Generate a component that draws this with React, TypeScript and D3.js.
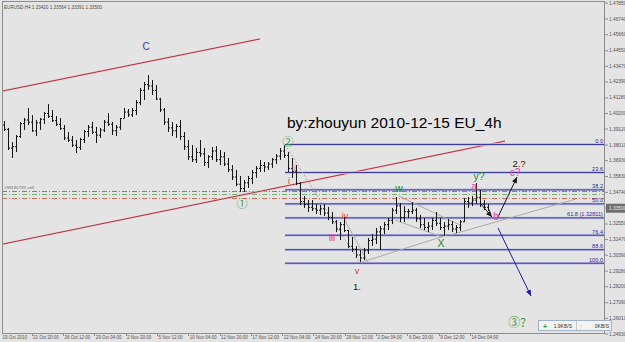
import React from 'react';
import * as d3 from 'd3';

// ---- price bars (8h aggregated) ----
const highs = [1.3968, 1.3920, 1.3822, 1.3871, 1.3961, 1.3989, 1.4058, 1.4009, 1.3975, 1.3989,
  1.4030, 1.4085, 1.4044, 1.4002, 1.3989, 1.3940, 1.3892, 1.3864, 1.3836, 1.3851,
  1.3906, 1.3940, 1.3961, 1.3927, 1.3920, 1.3975, 1.4023, 1.3961, 1.3940, 1.3989,
  1.4058, 1.4051, 1.4058, 1.4113, 1.4197, 1.4238, 1.4286, 1.4252, 1.4217, 1.4128,
  1.4058, 1.3989, 1.3961, 1.3947, 1.3975, 1.3892, 1.3836, 1.3801, 1.3781, 1.3836,
  1.3781, 1.3732, 1.3788, 1.3794, 1.3767, 1.3753, 1.3712, 1.3663, 1.3629, 1.3587,
  1.3559, 1.3587, 1.3629, 1.3656, 1.3698, 1.3684, 1.3684, 1.3712, 1.3739, 1.3781,
  1.3801, 1.3753, 1.3712, 1.3663, 1.3545, 1.3448, 1.3421, 1.3421, 1.3393, 1.3386,
  1.3393, 1.3373, 1.3338, 1.3282, 1.3268, 1.3303, 1.3213, 1.3165, 1.3102, 1.3075,
  1.3089, 1.3158, 1.3185, 1.3227, 1.3241, 1.3268, 1.3296, 1.3366, 1.3442, 1.3400,
  1.3379, 1.3359, 1.3407, 1.3366, 1.3317, 1.3296, 1.3268, 1.3296, 1.3338, 1.3296,
  1.3268, 1.3289, 1.3275, 1.3247, 1.3282, 1.3435, 1.3442, 1.3448, 1.3538, 1.3490,
  1.3421, 1.3393];
const lows = [1.3899, 1.3767, 1.3712, 1.3753, 1.3851, 1.3906, 1.3940, 1.3892, 1.3864, 1.3906,
  1.3947, 1.3989, 1.3961, 1.3933, 1.3906, 1.3836, 1.3822, 1.3788, 1.3746, 1.3767,
  1.3815, 1.3858, 1.3878, 1.3815, 1.3851, 1.3892, 1.3933, 1.3871, 1.3864, 1.3906,
  1.3989, 1.3996, 1.3996, 1.4009, 1.4078, 1.4113, 1.4183, 1.4148, 1.4113, 1.4030,
  1.3940, 1.3892, 1.3864, 1.3851, 1.3836, 1.3767, 1.3698, 1.3684, 1.3677, 1.3719,
  1.3656, 1.3643, 1.3698, 1.3684, 1.3663, 1.3656, 1.3615, 1.3559, 1.3517, 1.3476,
  1.3476, 1.3504, 1.3531, 1.3574, 1.3615, 1.3615, 1.3629, 1.3643, 1.3670, 1.3698,
  1.3712, 1.3615, 1.3574, 1.3524, 1.3386, 1.3366, 1.3338, 1.3345, 1.3324, 1.3317,
  1.3310, 1.3282, 1.3254, 1.3199, 1.3144, 1.3199, 1.3089, 1.3061, 1.3019, 1.2991,
  1.3005, 1.3047, 1.3102, 1.3116, 1.3075, 1.3185, 1.3213, 1.3254, 1.3324, 1.3268,
  1.3268, 1.3296, 1.3324, 1.3268, 1.3227, 1.3213, 1.3199, 1.3213, 1.3241, 1.3213,
  1.3172, 1.3213, 1.3199, 1.3192, 1.3206, 1.3268, 1.3366, 1.3379, 1.3393, 1.3373,
  1.3352, 1.3345];
const closes = [1.3910, 1.3780, 1.3790, 1.3860, 1.3950, 1.3975, 1.3960, 1.3900, 1.3955, 1.3980,
  1.4020, 1.4000, 1.3970, 1.3945, 1.3915, 1.3850, 1.3835, 1.3800, 1.3785, 1.3840,
  1.3895, 1.3925, 1.3890, 1.3870, 1.3905, 1.3960, 1.3945, 1.3900, 1.3925, 1.3985,
  1.4030, 1.4010, 1.4040, 1.4095, 1.4180, 1.4220, 1.4210, 1.4180, 1.4120, 1.4045,
  1.3960, 1.3920, 1.3900, 1.3930, 1.3860, 1.3790, 1.3720, 1.3700, 1.3750, 1.3740,
  1.3680, 1.3720, 1.3760, 1.3700, 1.3720, 1.3670, 1.3630, 1.3580, 1.3530, 1.3500,
  1.3540, 1.3570, 1.3610, 1.3640, 1.3660, 1.3650, 1.3670, 1.3700, 1.3725, 1.3760,
  1.3730, 1.3640, 1.3620, 1.3535, 1.3410, 1.3390, 1.3370, 1.3360, 1.3350, 1.3360,
  1.3330, 1.3300, 1.3270, 1.3220, 1.3250, 1.3210, 1.3100, 1.3080, 1.3040, 1.3020,
  1.3070, 1.3140, 1.3150, 1.3200, 1.3220, 1.3250, 1.3280, 1.3350, 1.3380, 1.3300,
  1.3340, 1.3340, 1.3350, 1.3290, 1.3250, 1.3230, 1.3240, 1.3280, 1.3260, 1.3230,
  1.3240, 1.3250, 1.3220, 1.3230, 1.3270, 1.3410, 1.3400, 1.3420, 1.3440, 1.3390,
  1.3370, 1.3350];
const firstOpen = 1.3940;
const lastPrice = 1.3350;

// ---- axes ----
const priceTicks = [1.4785, 1.4674, 1.4566, 1.4455, 1.4347, 1.4239, 1.4128, 1.4020, 1.3912, 1.3801,
  1.3693, 1.3583, 1.3474, 1.3365, 1.3255, 1.3147, 1.3039, 1.2928, 1.2820, 1.2709, 1.2601, 1.2493];
const dateLabels = ['19 Oct 2010', '21 Oct 20:00', '26 Oct 12:00', '29 Oct 04:00', '2 Nov 20:00',
  '5 Nov 12:00', '10 Nov 04:00', '12 Nov 20:00', '17 Nov 12:00', '22 Nov 04:00', '24 Nov 20:00',
  '29 Nov 12:00', '2 Dec 04:00', '6 Dec 20:00', '9 Dec 12:00', '14 Dec 04:00'];
const dateIdx = [-0.75, 6.9, 14.73, 22.56, 30.39, 38.22, 46.05, 53.88, 61.71, 69.54, 77.37,
  85.2, 93.03, 100.86, 108.69, 116.52];
const headerText = 'EURUSD,H4  1.33420 1.33564 1.33391 1.33500';

// ---- drawings ----
const upperChannel: [number, number][] = [[-0.25, 1.4176], [64, 1.4536]];
const lowerChannel: [number, number][] = [[-0.25, 1.3116], [125.25, 1.3829]];
const fibStart = 70.25;
const fibHigh = 1.3805;
const fibLow = 1.2983;
const fibEnd = 89;
const fibLevels = [0, 23.6, 38.2, 50, 61.8, 76.4, 88.6, 100];
const fibTexts = ['0.0', '23.6', '38.2', '50.0', '61.8 (1.32811)', '76.4', '88.6', '100.0'];
const orderPrices = [1.3480, 1.3459, 1.3431];
const orderLabel = '#98180735 sell';
const guideLines: [number, number][][] = [
  [[84.75, 1.3303], [91, 1.2991]],
  [[89.5, 1.2991], [110.75, 1.3178]],
  [[98.75, 1.3448], [114.5, 1.3241]],
  [[97.75, 1.3282], [109.5, 1.3165]],
  [[111.5, 1.3178], [143, 1.3428]],
];
const blackArrows: [number, number][][] = [
  [[119, 1.3400], [122, 1.3303]],
  [[123.5, 1.3303], [128.25, 1.3580]],
];
const blueArrows: [number, number][][] = [
  [[123.5, 1.3227], [131.75, 1.2756]],
];
const waveLabels = [
  { text: 'C', idx: 35.5, price: 1.4487, kind: 'navy' },
  { text: '①', idx: 59.5, price: 1.3400, kind: 'circle' },
  { text: '②', idx: 71, price: 1.3829, kind: 'circle' },
  { text: 'i', idx: 71.25, price: 1.3552, kind: 'red' },
  { text: 'ii', idx: 72.5, price: 1.3643, kind: 'pink' },
  { text: 'iii', idx: 82.0, price: 1.3158, kind: 'red' },
  { text: 'iv', idx: 85.25, price: 1.3310, kind: 'red' },
  { text: 'v', idx: 88.25, price: 1.2929, kind: 'red' },
  { text: '1.', idx: 88.25, price: 1.2825, kind: 'black' },
  { text: 'w', idx: 98.75, price: 1.3504, kind: 'green' },
  { text: 'X', idx: 109.25, price: 1.3124, kind: 'green' },
  { text: 'y?', idx: 118.75, price: 1.3587, kind: 'green' },
  { text: 'a', idx: 117.5, price: 1.3517, kind: 'magenta' },
  { text: 'b', idx: 123, price: 1.3310, kind: 'magenta' },
  { text: 'c?', idx: 127.75, price: 1.3608, kind: 'magenta' },
  { text: '2.?', idx: 128.75, price: 1.3677, kind: 'black' },
  { text: '③?', idx: 128.25, price: 1.2583, kind: 'circleBig' },
];
const title = 'by:zhouyun 2010-12-15 EU_4h';
const titleAnchor = { idx: 70.75, price: 1.3920 };
const statusTexts = ['1.9KB/S', '0KB/S'];

const labelStyle: Record<string, { fill: string; size: number; font?: string }> = {
  navy: { fill: '#3535a8', size: 10 },
  circle: { fill: '#3f9b3f', size: 11, font: "'Noto Sans CJK SC', 'DejaVu Sans', sans-serif" },
  circleBig: { fill: '#3f9b3f', size: 12, font: "'Noto Sans CJK SC', 'DejaVu Sans', sans-serif" },
  red: { fill: '#e03535', size: 9 },
  pink: { fill: '#f07090', size: 9 },
  black: { fill: '#151515', size: 9.5 },
  green: { fill: '#2a8a2a', size: 10.5 },
  magenta: { fill: '#e040b0', size: 10 },
};

const W = 625;
const H = 342;
const plotL = 2, plotR = 605, plotT = 1, plotB = 333;
const BG = '#e4e4e4';
const AXIS_TXT = '#505050';

export default function App() {
  const x = d3.scaleLinear().domain([0, 121]).range([4, 488]);
  const y = d3.scaleLinear().domain([1.2493, 1.4785]).range([334, 3]);
  const line = d3.line<[number, number]>().x(d => x(d[0])).y(d => y(d[1]));
  const fibY = (lvl: number) => y(fibHigh - (fibHigh - fibLow) * lvl / 100);
  const font = "'Liberation Sans', Arial, sans-serif";

  const arrowHead = (seg: [number, number][], color: string, key: string) => {
    const x1 = x(seg[0][0]), y1 = y(seg[0][1]), x2 = x(seg[1][0]), y2 = y(seg[1][1]);
    const a = Math.atan2(y2 - y1, x2 - x1);
    const L = 6, Wd = 2.6;
    const p = [
      [x2, y2],
      [x2 - L * Math.cos(a) + Wd * Math.sin(a), y2 - L * Math.sin(a) - Wd * Math.cos(a)],
      [x2 - L * Math.cos(a) - Wd * Math.sin(a), y2 - L * Math.sin(a) + Wd * Math.cos(a)],
    ];
    return (
      <g key={key}>
        <path d={line(seg) || ''} stroke={color} strokeWidth={1} fill="none" />
        <polygon points={p.map(q => q.join(',')).join(' ')} fill={color} />
      </g>
    );
  };

  return (
    <svg width={W} height={H} style={{ position: 'absolute', left: 0, top: 0, display: 'block' }} fontFamily={font}>
      <defs>
        <clipPath id="plotClip">
          <rect x={plotL} y={plotT} width={plotR - plotL} height={plotB - plotT} />
        </clipPath>
      </defs>
      <rect x={0} y={0} width={W} height={H} fill={BG} />

      {/* header */}
      <text x={4} y={8.5} fontSize={4.6} fill={AXIS_TXT}>{headerText}</text>

      <g clipPath="url(#plotClip)">
        {/* order lines */}
        {orderPrices.map((p, k) => (
          <line key={'o' + k} x1={plotL} x2={plotR} y1={y(p)} y2={y(p)}
            stroke={['#4f9d4f', '#79b479', '#c86a52'][k]} strokeWidth={1} strokeDasharray="5,2,1,2" />
        ))}
        <text x={4} y={y(orderPrices[0]) - 2} fontSize={4.4} fill="#707070">{orderLabel}</text>

        {/* red channel */}
        {[upperChannel, lowerChannel].map((seg, k) => (
          <g key={'ch' + k}>
            <path d={line(seg) || ''} stroke="#eecdd1" strokeWidth={2.2} fill="none" />
            <path d={line(seg) || ''} stroke="#a8303f" strokeWidth={1} fill="none" />
          </g>
        ))}

        {/* fibonacci */}
        {fibLevels.map((lvl, k) => (
          <g key={'f' + k}>
            <line x1={x(fibStart)} x2={plotR} y1={fibY(lvl)} y2={fibY(lvl)} stroke="#bcbce4" strokeWidth={2.5} />
            <line x1={x(fibStart)} x2={plotR} y1={fibY(lvl)} y2={fibY(lvl)} stroke="#3a3a94" strokeWidth={1} />
            <text x={603} y={fibY(lvl) - 1.5} fontSize={5.6} fill="#2a2a90" textAnchor="end">{fibTexts[k]}</text>
          </g>
        ))}
        <path d={line([[fibStart, fibHigh], [fibEnd, fibLow]]) || ''} stroke="#a8a8a8" strokeWidth={1} strokeDasharray="2,2" fill="none" />

        {/* guide lines */}
        {guideLines.map((seg, k) => (
          <path key={'g' + k} d={line(seg) || ''} stroke="#ababab" strokeWidth={1} fill="none" />
        ))}

        {/* bars */}
        {highs.map((h, i) => {
          const cx = Math.round(x(i)) + 0.5;
          const o = i === 0 ? firstOpen : closes[i - 1];
          return (
            <g key={'b' + i} stroke="#161616" strokeWidth={1}>
              <line x1={cx} x2={cx} y1={y(h)} y2={y(lows[i])} />
              <line x1={cx - 1.5} x2={cx} y1={y(o)} y2={y(o)} />
              <line x1={cx} x2={cx + 1.5} y1={y(closes[i])} y2={y(closes[i])} />
            </g>
          );
        })}

        {/* arrows */}
        {blackArrows.map((s, k) => arrowHead(s, '#151515', 'ba' + k))}
        {blueArrows.map((s, k) => arrowHead(s, '#1c1c9c', 'bl' + k))}

        {/* labels */}
        {waveLabels.map((l, k) => {
          const st = labelStyle[l.kind];
          return (
            <text key={'l' + k} x={x(l.idx)} y={y(l.price)} fontSize={st.size} fill={st.fill}
              textAnchor="middle" dominantBaseline="central" fontFamily={st.font || font}>{l.text}</text>
          );
        })}
        <text x={x(titleAnchor.idx)} y={y(titleAnchor.price)} fontSize={15.5} fill="#000">{title}</text>
      </g>

      {/* frame */}
      <rect x={plotL + 0.5} y={plotT + 0.5} width={plotR - plotL - 1} height={plotB - plotT} fill="none" stroke="#8e8e8e" strokeWidth={1} />

      {/* right axis */}
      {priceTicks.map((p, k) => (
        <g key={'pt' + k}>
          <line x1={plotR} x2={plotR + 3} y1={y(p)} y2={y(p)} stroke="#8e8e8e" />
          <text x={609} y={y(p)} fontSize={4.8} fill={AXIS_TXT} dominantBaseline="central">{p.toFixed(5)}</text>
        </g>
      ))}
      <rect x={plotR + 1} y={y(lastPrice) - 6.5} width={19} height={9} fill="#6e6e6e" />
      <text x={609} y={y(lastPrice) - 2} fontSize={4.8} fill="#f0f0f0" dominantBaseline="central">{lastPrice.toFixed(5)}</text>

      {/* bottom axis */}
      {dateLabels.map((d, k) => (
        <g key={'d' + k}>
          {k > 0 && <line x1={Math.round(x(dateIdx[k])) + 0.5} x2={Math.round(x(dateIdx[k])) + 0.5} y1={plotB} y2={plotB + 3} stroke="#8e8e8e" />}
          <text x={x(dateIdx[k]) + 1.5} y={339} fontSize={4.5} fill={AXIS_TXT}>{d}</text>
        </g>
      ))}

      {/* status box */}
      <rect x={538.5} y={320.5} width={73} height={10} fill="#f3f3f3" stroke="#9fb3c3" />
      <line x1={576.5} x2={576.5} y1={321} y2={330} stroke="#c8c8c8" />
      <text x={545} y={326} fontSize={7} fill="#2f9a2f" textAnchor="middle" dominantBaseline="central" fontWeight="bold">+</text>
      <text x={572} y={326} fontSize={5} fill="#303030" textAnchor="end" dominantBaseline="central">{statusTexts[0]}</text>
      <text x={581} y={326} fontSize={6.5} fill="#e0b020" textAnchor="middle" dominantBaseline="central" fontWeight="bold">↑</text>
      <text x={609} y={326} fontSize={5} fill="#303030" textAnchor="end" dominantBaseline="central">{statusTexts[1]}</text>
    </svg>
  );
}
